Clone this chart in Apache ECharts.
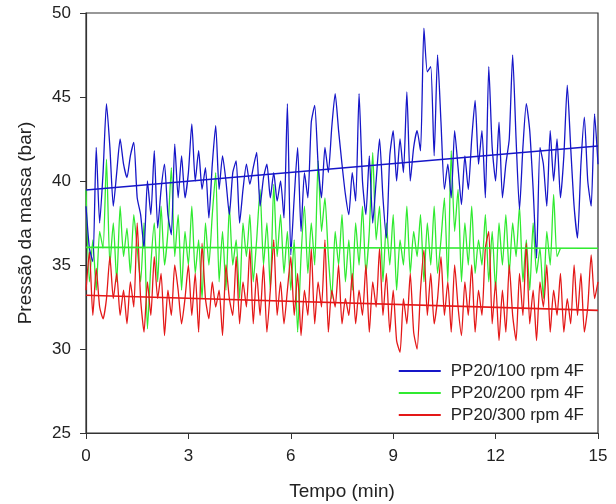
<!DOCTYPE html>
<html>
<head>
<meta charset="utf-8">
<script src="https://cdn.jsdelivr.net/npm/echarts@6/dist/echarts.min.js"></script>
<style>html,body{margin:0;padding:0;background:#fff}#c{width:616px;height:504px}</style>
</head>
<body>
<div id="c"></div>
<script>
const seriesNames = ['PP20/100 rpm 4F', 'PP20/200 rpm 4F', 'PP20/300 rpm 4F'];
const xStep = 0.1;
const xTicks = [0, 3, 6, 9, 12, 15];
const yTicks = [25, 30, 35, 40, 45, 50];

const blue100 = [38.5,36.0,35.2,42.0,37.5,40.5,44.6,42.0,38.5,40.5,
42.5,41.0,40.2,41.5,42.3,39.0,38.0,36.0,40.0,38.0,
41.8,37.2,39.5,41.0,38.0,36.8,42.2,39.0,41.5,39.0,
40.5,43.4,40.0,41.8,39.5,40.8,37.8,41.0,43.3,39.5,
41.5,40.0,38.0,40.5,41.2,37.5,39.5,41.0,39.8,40.8,
41.7,38.5,40.2,41.0,39.0,40.5,38.8,40.0,37.8,44.6,
35.6,39.0,42.0,37.0,40.5,39.0,43.5,44.5,41.0,39.0,
42.0,40.5,43.2,45.2,43.0,41.0,39.2,38.0,40.5,38.8,
45.2,40.0,38.0,41.5,37.5,40.0,42.5,39.0,36.6,41.5,
43.0,40.0,42.5,40.5,45.3,40.0,42.0,43.0,41.8,49.1,
46.5,46.8,41.5,47.5,43.5,39.5,41.0,39.0,43.0,40.8,
38.6,41.5,39.5,42.5,44.8,41.0,43.0,39.0,46.8,42.0,
40.0,43.5,39.0,41.0,42.5,47.5,42.5,38.3,42.0,44.6,
43.0,39.5,35.4,42.0,41.0,38.5,43.0,40.0,42.5,39.0,
41.5,45.7,42.0,38.5,36.6,41.0,43.8,40.0,38.5,44.0,
41.0];

const green200 = [39.5,34.0,36.5,33.5,37.0,36.0,41.3,35.0,37.5,34.0,
38.5,35.5,37.2,34.5,38.0,36.0,34.0,37.5,31.2,35.0,
37.5,34.0,38.5,35.0,37.0,40.8,35.5,38.0,33.5,37.0,
35.0,38.5,34.5,36.5,33.0,37.5,35.0,38.0,40.5,34.0,
37.0,33.5,38.5,35.0,36.5,33.0,37.5,35.5,38.0,34.0,
36.5,39.5,35.0,37.5,33.5,39.8,35.5,38.0,34.5,37.0,
33.5,36.5,31.0,35.5,38.5,34.5,37.5,35.0,41.2,37.0,
39.0,35.5,33.0,37.0,35.0,38.0,34.0,36.5,33.5,37.5,
35.0,38.5,34.5,37.0,41.7,36.5,38.5,34.0,37.5,35.0,
38.0,33.5,36.5,35.0,38.5,34.5,37.0,35.5,38.0,34.0,
37.5,35.0,38.5,34.5,36.5,39.0,34.0,41.8,37.0,39.5,
34.0,37.5,35.0,38.5,34.5,36.5,35.0,38.0,34.0,37.0,
33.5,37.5,35.0,38.0,34.5,37.5,35.5,38.5,34.0,36.5,
33.5,37.5,34.5,36.0,33.0,37.0,35.0,39.2,35.5,36.0];

const red300 = [33.5,35.8,32.0,34.8,32.5,31.8,33.0,35.5,33.0,34.5,
32.0,33.5,31.5,34.0,32.5,37.5,33.0,31.0,34.0,32.0,
35.5,33.0,34.5,30.8,33.5,32.0,35.0,33.5,31.5,33.0,
35.0,32.0,34.5,31.0,36.3,33.0,31.8,34.0,32.5,33.5,
30.8,35.0,33.0,32.0,35.5,31.5,34.0,32.5,36.0,31.5,
34.5,32.0,35.0,31.0,33.5,36.5,32.0,34.0,31.5,33.5,
35.5,32.0,34.5,30.8,33.5,32.0,36.0,31.5,34.0,32.5,
36.5,31.0,33.5,32.5,35.0,31.5,33.0,32.0,34.5,31.5,
33.5,32.0,35.0,31.0,34.0,32.5,36.0,32.0,34.5,31.0,
33.5,30.5,29.8,33.0,31.5,34.5,31.0,30.0,33.5,35.9,
32.0,34.5,31.5,33.0,35.5,32.0,34.0,31.0,35.0,32.5,
30.8,34.0,32.0,35.0,31.0,33.5,32.0,36.0,37.0,31.5,
34.0,30.5,33.5,31.0,35.0,32.0,30.5,34.5,32.0,36.3,
31.5,33.5,30.5,34.0,32.5,35.0,31.0,33.5,32.0,34.5,
31.0,33.0,31.5,35.0,32.0,34.5,31.0,32.5,35.6,33.0,
34.0];

const trendX = [0, 15];
const blueTrend = [39.46, 42.08];
const greenTrend = [36.05, 36.0];
const redTrend = [33.2, 32.3];

const colors = ['#1616c8', '#30ea30', '#e41818'];

function pairs(arr) { return arr.map((v, i) => [+(i * xStep).toFixed(2), v]); }
function tpairs(arr) { return arr.map((v, i) => [trendX[i], v]); }

const chart = echarts.init(document.getElementById('c'), null, {renderer: 'canvas'});
const font = 'Liberation Sans, Arial, sans-serif';
const dataSeries = [blue100, green200, red300];
const trends = [blueTrend, greenTrend, redTrend];
const zOrder = [4, 2, 3];
const series = [];
dataSeries.forEach((d, i) => {
  series.push({
    name: seriesNames[i], type: 'line', data: pairs(d), showSymbol: false, symbol: 'none',
    smooth: 0.2, lineStyle: {color: colors[i], width: 1.3}, itemStyle: {color: colors[i]},
    z: zOrder[i], animation: false
  });
});
trends.forEach((d, i) => {
  series.push({
    name: seriesNames[i] + ' trend', type: 'line', data: tpairs(d), showSymbol: false, symbol: 'none',
    lineStyle: {color: colors[i], width: 1.6}, z: 6, animation: false
  });
});

chart.setOption({
  backgroundColor: '#fff',
  animation: false,
  grid: {left: 86, top: 13, right: 18, bottom: 71, show: true, borderColor: '#333', borderWidth: 1.2,
         containLabel: false, outerBoundsMode: 'none'},
  legend: {
    data: seriesNames, orient: 'vertical', right: 27, top: 357,
    icon: 'rect', itemWidth: 42, itemHeight: 2, itemGap: 4,
    textStyle: {fontFamily: font, fontSize: 17, color: '#222', lineHeight: 18, padding: [0, 0, 0, 5]}
  },
  xAxis: {
    type: 'value', min: xTicks[0], max: xTicks[xTicks.length - 1], interval: 3,
    name: 'Tempo (min)', nameLocation: 'middle', nameGap: 49,
    nameTextStyle: {fontFamily: font, fontSize: 19, color: '#222'},
    axisLine: {lineStyle: {color: '#333', width: 1.2}},
    axisTick: {show: true, length: 6, lineStyle: {color: '#333'}},
    axisLabel: {fontFamily: font, fontSize: 17, color: '#222', margin: 15},
    splitLine: {show: false}
  },
  yAxis: {
    type: 'value', min: yTicks[0], max: yTicks[yTicks.length - 1], interval: 5,
    name: 'Pressão da massa (bar)', nameLocation: 'middle', nameGap: 51,
    nameTextStyle: {fontFamily: font, fontSize: 19, color: '#222'},
    axisLine: {show: true, lineStyle: {color: '#333', width: 1.2}},
    axisTick: {show: true, length: 6, lineStyle: {color: '#333'}},
    axisLabel: {fontFamily: font, fontSize: 17, color: '#222', margin: 15},
    splitLine: {show: false}
  },
  series: series
});
</script>
</body>
</html>
